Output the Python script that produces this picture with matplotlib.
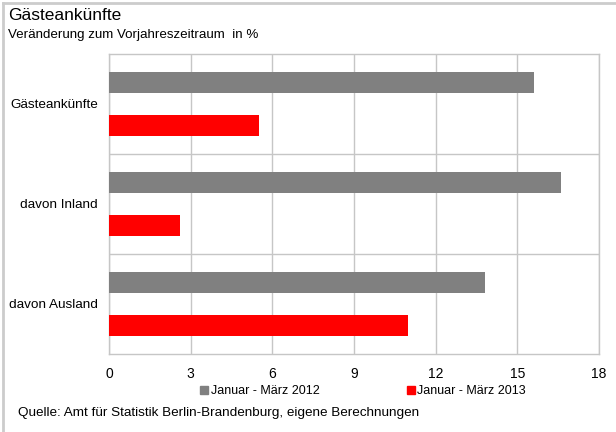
import matplotlib
matplotlib.use("Agg")
import matplotlib.pyplot as plt
import numpy as np
from matplotlib.lines import Line2D

plt.rcParams['font.family'] = ['Liberation Sans', 'DejaVu Sans']

categories = ["Gästeankünfte", "davon Inland", "davon Ausland"]
values_2012 = [15.6, 16.6, 13.8]
values_2013 = [5.5, 2.6, 11.0]
series_labels = ["Januar - März 2012", "Januar - März 2013"]
x_ticks = [0, 3, 6, 9, 12, 15, 18]

grid_col = "#c6c6c6"

fig = plt.figure(figsize=(6.16, 4.32), dpi=100)
ax = fig.add_axes([109 / 616, 1 - 354 / 432, 490 / 616, 300 / 432])

centers = np.arange(len(categories)) + 0.5
ax.barh(centers - 0.215, values_2012, height=0.21, color="#808080", zorder=3)
ax.barh(centers + 0.215, values_2013, height=0.21, color="#ff0000", zorder=3)

ax.set_xlim(0, 18)
ax.set_ylim(3, 0)
ax.set_xticks(x_ticks)
ax.set_yticks(centers)
ax.set_yticklabels(categories, fontsize=9.7)
ax.set_yticks([1, 2], minor=True)
ax.tick_params(axis="both", which="both", length=0)
ax.tick_params(axis="x", pad=9, labelsize=10)
ax.tick_params(axis="y", pad=8)
ax.grid(axis="x", color=grid_col, lw=1, zorder=0)
ax.grid(axis="y", which="minor", color=grid_col, lw=1, zorder=0)
for s in ax.spines.values():
    s.set_color(grid_col)
    s.set_linewidth(1)

# titles
fig.text(8 / 616, 1 - 15 / 432, "Gästeankünfte", fontsize=12.5, va="center", ha="left")
fig.text(8 / 616, 1 - 35 / 432, "Veränderung zum Vorjahreszeitraum  in %", fontsize=9.6, va="center", ha="left")

# legend
handles = [Line2D([], [], ls="none", marker="s", markersize=6, color="#808080"),
           Line2D([], [], ls="none", marker="s", markersize=6, color="#ff0000")]
fig.legend(handles, series_labels, loc="center", bbox_to_anchor=(363 / 616, 1 - 391 / 432),
           ncol=2, frameon=False, fontsize=9, handlelength=0.6, handletextpad=0.2,
           columnspacing=7.0, borderpad=0)

fig.text(18 / 616, 1 - 413 / 432, "Quelle: Amt für Statistik Berlin-Brandenburg, eigene Berechnungen",
         fontsize=9.7, va="center", ha="left")

# outer frame (top and left)
fig.add_artist(Line2D([3 / 616, 3 / 616], [0, 1 - 3 / 432], color="#cccccc", lw=2, transform=fig.transFigure))
fig.add_artist(Line2D([3 / 616, 1], [1 - 3 / 432, 1 - 3 / 432], color="#cccccc", lw=2, transform=fig.transFigure))

fig.savefig("out.png", dpi=100)
